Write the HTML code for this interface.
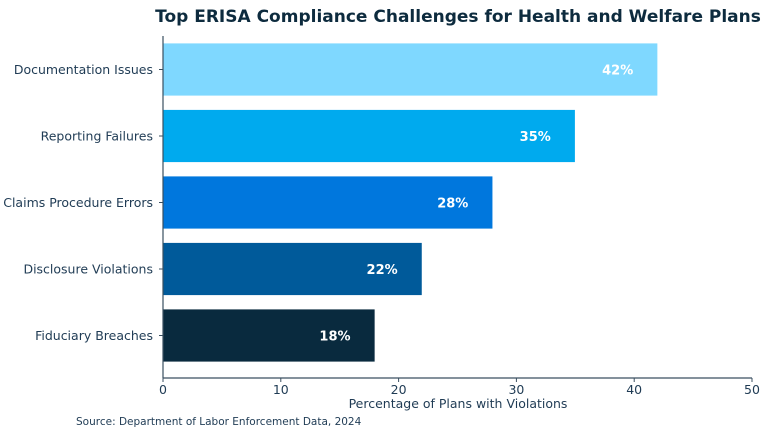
<!DOCTYPE html>
<html><head><meta charset="utf-8"><style>
body{margin:0;background:#fff;width:768px;height:434px;overflow:hidden}
text{font-family:"DejaVu Sans","Liberation Sans",sans-serif}
</style></head><body>
<svg id="chart" width="768" height="434">
<text x="458" y="22" text-anchor="middle" font-size="17" font-weight="bold" fill="#0d2b3e">Top ERISA Compliance Challenges for Health and Welfare Plans</text>
<g id="bars"></g>
<line x1="163" y1="36" x2="163" y2="378" stroke="#3a4f60" stroke-width="1.2"/>
<line x1="163" y1="378" x2="752" y2="378" stroke="#3a4f60" stroke-width="1.2"/>
<g id="xticks"></g>
<text x="458" y="408" text-anchor="middle" font-size="12.5" fill="#1f3b54">Percentage of Plans with Violations</text>
<text x="76" y="425" font-size="10.5" fill="#1f3b54">Source: Department of Labor Enforcement Data, 2024</text>
</svg>
<script>
const categories=["Documentation Issues","Reporting Failures","Claims Procedure Errors","Disclosure Violations","Fiduciary Breaches"];
const values=[42,35,28,22,18];
const colors=["#7fd8ff","#00aaee","#0077dd","#005a9a","#092a3e"];
const xTicks=[0,10,20,30,40,50];
const ns="http://www.w3.org/2000/svg";
const x=v=>163+v*(589/50);
const yc=i=>69.5+i*66.5;
const bh=53;
const gb=document.getElementById('bars'),gt=document.getElementById('xticks');
function mk(tag,attrs,parent){const e=document.createElementNS(ns,tag);for(const k in attrs)e.setAttribute(k,attrs[k]);parent.appendChild(e);return e;}
categories.forEach((c,i)=>{
 const r=mk('rect',{x:x(0),y:yc(i)-bh/2,width:x(values[i])-x(0),height:bh,fill:colors[i],stroke:'#fff','stroke-width':0.8},gb);
 
 
 const t=mk('text',{x:x(values[i]-3.4),y:yc(i)+5,'text-anchor':'middle','font-size':13,'font-weight':'bold',fill:'#fff'},gb);
 t.textContent=values[i]+'%';
 
 
 const l=mk('text',{x:153,y:yc(i)+4.5,'text-anchor':'end','font-size':12.5,fill:'#1f3b54'},gb);
 l.textContent=c;
 
 
 mk('line',{x1:159,x2:163,y1:yc(i),y2:yc(i),stroke:'#3a4f60'},gb);
});
xTicks.forEach(v=>{
 mk('line',{x1:x(v),x2:x(v),y1:378,y2:382,stroke:'#3a4f60'},gt);
 const t=mk('text',{x:x(v),y:394,'text-anchor':'middle','font-size':12.5,fill:'#1f3b54'},gt);
 t.textContent=v;
 
 
});
</script>
</body></html>
